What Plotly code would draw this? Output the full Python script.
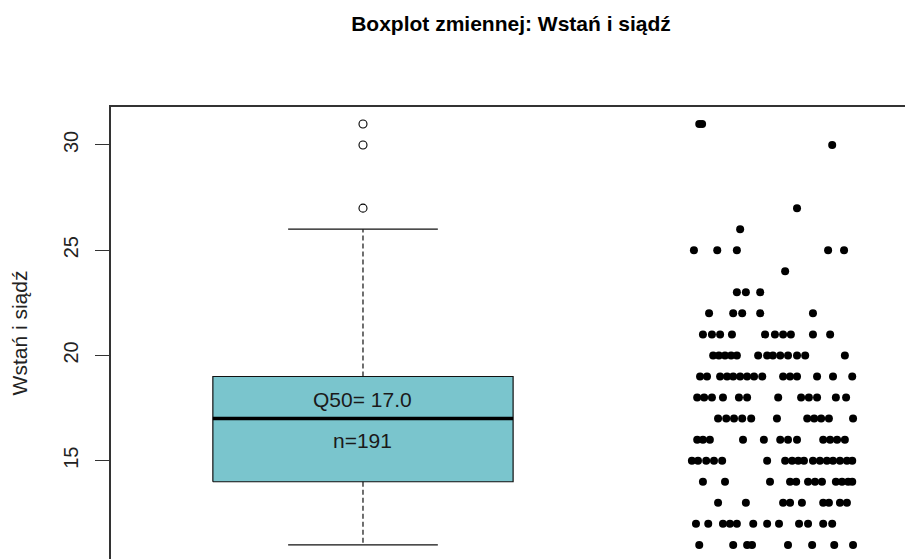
import plotly.graph_objects as go

# ---- data -------------------------------------------------------------
variable_name = "Wstań i siądź"
n_obs = 191

# five-number summary of the box (Tukey hinges) and the outliers above it
q1, q50, q3 = 14.0, 17.0, 19.0
whisker_low, whisker_high = 11.0, 26.0
outliers = [27, 30, 31]

# jittered strip chart: value of each row and horizontal jitter of its points
strip_values = [31, 30, 27, 26, 25, 24, 23, 22, 21, 20, 19, 18, 17, 16, 15, 14, 13, 12, 11]
strip_jitter = [
    [-0.178, -0.171],
    [0.147],
    [0.061],
    [-0.078],
    [-0.191, -0.134, -0.086, 0.137, 0.176],
    [0.032],
    [-0.086, -0.064, -0.029],
    [-0.154, -0.095, -0.073, -0.029, 0.100],
    [-0.169, -0.147, -0.127, -0.098, -0.017, 0.007, 0.027, 0.046, 0.100, 0.142],
    [-0.144, -0.130, -0.115, -0.100, -0.086, -0.034, -0.012, 0.002, 0.020, 0.039, 0.061, 0.081, 0.178],
    [-0.176, -0.159, -0.127, -0.110, -0.095, -0.078, -0.061, -0.044, -0.024, 0.027, 0.044, 0.061, 0.110, 0.149, 0.196],
    [-0.183, -0.166, -0.147, -0.120, -0.081, -0.061, 0.015, 0.071, 0.090, 0.110, 0.156, 0.181],
    [-0.132, -0.112, -0.093, -0.073, -0.051, 0.012, 0.086, 0.103, 0.120, 0.139, 0.198],
    [-0.183, -0.169, -0.152, -0.071, -0.020, 0.020, 0.039, 0.061, 0.125, 0.142, 0.159, 0.178],
    [-0.196, -0.181, -0.161, -0.142, -0.122, -0.012, 0.032, 0.049, 0.064, 0.078, 0.100, 0.117, 0.134, 0.149, 0.166, 0.183, 0.196],
    [-0.169, -0.115, -0.005, 0.044, 0.059, 0.088, 0.105, 0.122, 0.156, 0.171, 0.186, 0.196],
    [-0.132, -0.064, 0.027, 0.044, 0.073, 0.125, 0.139, 0.166, 0.183],
    [-0.186, -0.156, -0.120, -0.103, -0.086, -0.046, -0.012, 0.017, 0.066, 0.088, 0.125, 0.147],
    [-0.178, -0.095, -0.061, -0.049, 0.039, 0.098, 0.152, 0.198],
]

y_ticks = [15, 20, 25, 30]

# ---- layout constants ---------------------------------------------------
BOX_X, STRIP_X = 1.0, 2.0
BOX_HALF = 0.367
CAP_HALF = 0.183
FILL = "#7AC5CD"
INK = "black"
FONT = "Liberation Sans, Arial, sans-serif"

fig = go.Figure()

# box body
fig.add_trace(go.Scatter(
    x=[BOX_X - BOX_HALF, BOX_X + BOX_HALF, BOX_X + BOX_HALF, BOX_X - BOX_HALF, BOX_X - BOX_HALF],
    y=[q1, q1, q3, q3, q1],
    mode="lines", fill="toself", fillcolor=FILL,
    line=dict(color="#111", width=1.2), hoverinfo="skip", showlegend=False))

# median
fig.add_trace(go.Scatter(
    x=[BOX_X - BOX_HALF, BOX_X + BOX_HALF], y=[q50, q50],
    mode="lines", line=dict(color=INK, width=3.5), showlegend=False, hoverinfo="skip"))

# dashed whiskers
for a, b in [(q3, whisker_high), (q1, whisker_low)]:
    fig.add_trace(go.Scatter(
        x=[BOX_X, BOX_X], y=[a, b], mode="lines",
        line=dict(color="#111", width=1.2, dash="5px,3px"),
        showlegend=False, hoverinfo="skip"))

# whisker caps
for w in [whisker_high, whisker_low]:
    fig.add_trace(go.Scatter(
        x=[BOX_X - CAP_HALF, BOX_X + CAP_HALF], y=[w, w], mode="lines",
        line=dict(color="#111", width=1.2), showlegend=False, hoverinfo="skip"))

# outliers
fig.add_trace(go.Scatter(
    x=[BOX_X] * len(outliers), y=outliers, mode="markers",
    marker=dict(symbol="circle-open", size=8, color=INK, line=dict(width=1.1)),
    showlegend=False, hoverinfo="skip"))

# strip chart
sx, sy = [], []
for v, offs in zip(strip_values, strip_jitter):
    for o in offs:
        sx.append(STRIP_X + o)
        sy.append(v)
fig.add_trace(go.Scatter(
    x=sx, y=sy, mode="markers",
    marker=dict(symbol="circle", size=8, color=INK, line=dict(width=0)),
    showlegend=False, hoverinfo="skip"))

# labels inside the box
fig.add_annotation(x=BOX_X, y=q50 + 0.9, text=f"Q50= {q50:.1f}", showarrow=False,
                   font=dict(family=FONT, size=21, color="#1a1a1a"), yanchor="middle")
fig.add_annotation(x=BOX_X, y=q50 - 1.05, text=f"n={n_obs}", showarrow=False,
                   font=dict(family=FONT, size=21, color="#1a1a1a"), yanchor="middle")

fig.update_layout(
    width=905, height=559,
    margin=dict(l=111, r=0, t=107, b=0),
    paper_bgcolor="white", plot_bgcolor="white",
    font=dict(family=FONT, color=INK),
    title=dict(text=f"<b>Boxplot zmiennej: {variable_name}</b>",
               x=511 / 905, xref="container", xanchor="center",
               y=1 - 24 / 559, yref="container", yanchor="middle",
               font=dict(family=FONT, size=21, color=INK)),
    xaxis=dict(range=[0.384, 2.325], side="top", showline=True, linecolor="#333", linewidth=1.5,
               showticklabels=False, ticks="", showgrid=False, zeroline=False, fixedrange=True),
    yaxis=dict(range=[10.33, 31.805], tickvals=y_ticks, ticktext=[str(t) for t in y_ticks],
               tickangle=-90, ticks="outside", ticklen=14, tickwidth=1.3, tickcolor="#333",
               ticklabelstandoff=9,
               tickfont=dict(family=FONT, size=20, color="#222"),
               showline=True, linecolor="#333", linewidth=1.5,
               showgrid=False, zeroline=False,
               title=dict(text=variable_name, standoff=27,
                          font=dict(family=FONT, size=21, color="#222"))),
)

fig.write_html("out.html")
